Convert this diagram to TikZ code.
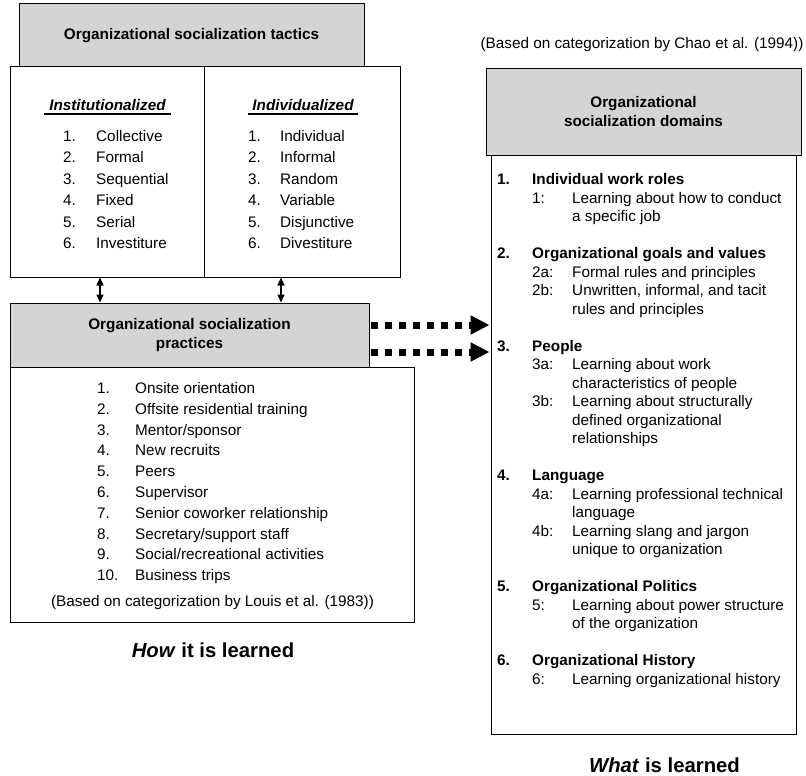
\documentclass[tikz,border=0pt]{standalone}
\usepackage{fontspec}
\setmainfont{Liberation Sans}
\usetikzlibrary{arrows.meta}
\definecolor{boxgray}{RGB}{211,212,214}
\begin{document}
\begin{tikzpicture}[x=1pt,y=-1pt,
  every node/.style={font=\fontsize{15.3}{19}\selectfont},
  box/.style={draw=black, line width=1pt, rectangle, inner sep=0pt, fill=white},
  hbox/.style={box, fill=boxgray, align=center, font=\fontsize{15.3}{19}\selectfont\bfseries},
  txt/.style={anchor=base west, inner sep=0pt},
  ctxt/.style={anchor=base, inner sep=0pt},
  btxt/.style={txt, font=\fontsize{15.3}{19}\selectfont\bfseries},
  biglabel/.style={ctxt, font=\fontsize{20.3}{24}\selectfont\bfseries},
  dblarrow/.style={{Triangle[length=8pt,width=7pt]}-{Triangle[length=8pt,width=7pt]}, line width=1.5pt},
  dotarrow/.style={-{Triangle[length=19pt,width=18pt]}, line width=7pt, dash pattern=on 7pt off 7pt, shorten <=1.5pt, shorten >=1pt},
  uline/.style={line width=1.5pt}
]
\useasboundingbox (0,0) rectangle (806,776);

% ---- tactics ----
\node[hbox, minimum width=345pt, minimum height=63pt] (tacHead) at (191.5,35.5) {Organizational socialization tactics};
\node[box, minimum width=194pt, minimum height=210pt] (inst) at (107,172) {};
\node[box, minimum width=196pt, minimum height=210pt] (indiv) at (302,172) {};

\node[ctxt, font=\fontsize{15.3}{19}\selectfont\bfseries\itshape] (instT) at (107.5,110.5) {Institutionalized};
\node[ctxt, font=\fontsize{15.3}{19}\selectfont\bfseries\itshape] (indivT) at (303,110.5) {Individualized};
\draw[uline] (44,114) -- (171,114);
\draw[uline] (248,114) -- (358,114);

\foreach \t [count=\i] in {Collective, Formal, Sequential, Fixed, Serial, Investiture} {
  \node[txt] (inN\i) at (63,{120.1+21.4*\i}) {\i.};
  \node[txt] (inT\i) at (96,{120.1+21.4*\i}) {\t};
}
\foreach \t [count=\i] in {Individual, Informal, Random, Variable, Disjunctive, Divestiture} {
  \node[txt] (idN\i) at (248,{120.1+21.4*\i}) {\i.};
  \node[txt] (idT\i) at (280,{120.1+21.4*\i}) {\t};
}

% ---- practices ----
\node[box, minimum width=404pt, minimum height=255pt] (pracList) at (212,494.5) {};
\node[hbox, minimum width=359pt, minimum height=64pt] (pracHead) at (189.5,335) {Organizational socialization\\practices};

\foreach \t [count=\i] in {Onsite orientation, Offsite residential training, Mentor/sponsor, New recruits, Peers, Supervisor, Senior coworker relationship, Secretary/support staff, Social/recreational activities, Business trips} {
  \node[txt] (prN\i) at (97,{372.7+20.8*\i}) {\i.};
  \node[txt] (prT\i) at (135,{372.7+20.8*\i}) {\t};
}
\node[ctxt] (louis) at (212.5,606.5) {(Based on categorization by Louis et al. (1983))};
\node[biglabel] (how) at (213,657) {\textit{How} it is learned};

% ---- domains ----
\node[ctxt] (chao) at (642,48.5) {(Based on categorization by Chao et al. (1994))};
\node[box, minimum width=305pt, minimum height=579pt] (domList) at (643.5,444.5) {};
\node[hbox, minimum width=315pt, minimum height=86pt] (domHead) at (643.5,112) {Organizational\\socialization domains};

\foreach \l/\n/\t in {0/1./Individual work roles, 4/2./Organizational goals and values, 9/3./People, 16/4./Language, 22/5./Organizational Politics, 26/6./Organizational History} {
  \node[btxt] (dN\l) at (497,{184.5+18.5*\l}) {\n};
  \node[btxt] (dT\l) at (532,{184.5+18.5*\l}) {\t};
}
\foreach \l/\n in {1/1:, 5/2a:, 6/2b:, 10/3a:, 12/3b:, 17/4a:, 19/4b:, 23/5:, 27/6:} {
  \node[txt] (sN\l) at (532,{184.5+18.5*\l}) {\n};
}
\foreach \l/\t in {1/Learning about how to conduct, 2/a specific job, 5/Formal rules and principles, 6/{Unwritten, informal, and tacit}, 7/rules and principles, 10/Learning about work, 11/characteristics of people, 12/Learning about structurally, 13/defined organizational, 14/relationships, 17/Learning professional technical, 18/language, 19/Learning slang and jargon, 20/unique to organization, 23/Learning about power structure, 24/of the organization, 27/Learning organizational history} {
  \node[txt] (sT\l) at (572,{184.5+18.5*\l}) {\t};
}
\node[biglabel] (what) at (664.5,772.5) {\textit{What} is learned};

% ---- connectors ----
\coordinate (ax1) at (100,0);
\coordinate (ax2) at (281,0);
\coordinate (ay1) at (0,325);
\coordinate (ay2) at (0,352);
\draw[dblarrow] (inst.south -| ax1) -- (pracHead.north -| ax1);
\draw[dblarrow] (indiv.south -| ax2) -- (pracHead.north -| ax2);
\draw[dotarrow] (pracHead.east |- ay1) -- (domList.west |- ay1);
\draw[dotarrow] (pracHead.east |- ay2) -- (domList.west |- ay2);
\end{tikzpicture}
\end{document}
